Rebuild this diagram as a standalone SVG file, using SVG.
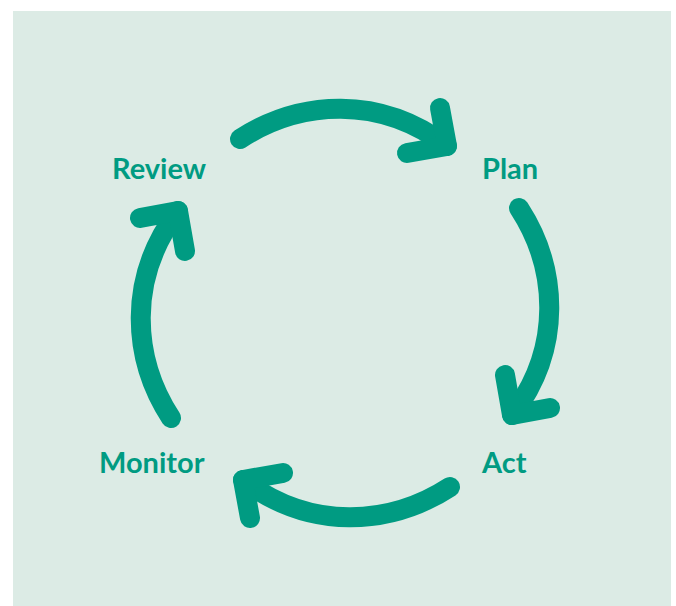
<svg xmlns="http://www.w3.org/2000/svg" width="676" height="606" viewBox="0 0 676 606">
  <defs>
    <style>
      .bg { fill: #dcebe5; }
      .shaft, .head { fill: none; stroke: #009b82; stroke-width: 20; stroke-linecap: round; stroke-linejoin: round; }
      .label { font-family: Lato, "Open Sans", "Liberation Sans", sans-serif; font-weight: 700; font-size: 29px; fill: #009b82; }
    </style>
    <!-- one curved arrow of the cycle; the other three are rotations about the centre -->
    <g id="cycle-arrow">
      <path class="shaft" d="M240,139 C300,100 380,95 447,146"/>
      <path class="head" d="M440,108 L447,146 L407,153"/>
    </g>
  </defs>

  <rect class="bg" x="13" y="11" width="658" height="595"/>

  <g id="connectors">
    <use href="#cycle-arrow"/>
    <use href="#cycle-arrow" transform="rotate(90 345 313)"/>
    <use href="#cycle-arrow" transform="rotate(180 345 313)"/>
    <use href="#cycle-arrow" transform="rotate(270 345 313)"/>
  </g>

  <g id="node-review"><text class="label" x="112" y="179">Review</text></g>
  <g id="node-plan"><text class="label" x="482" y="179">Plan</text></g>
  <g id="node-act"><text class="label" x="482" y="473">Act</text></g>
  <g id="node-monitor"><text class="label" x="99" y="473">Monitor</text></g>
</svg>
